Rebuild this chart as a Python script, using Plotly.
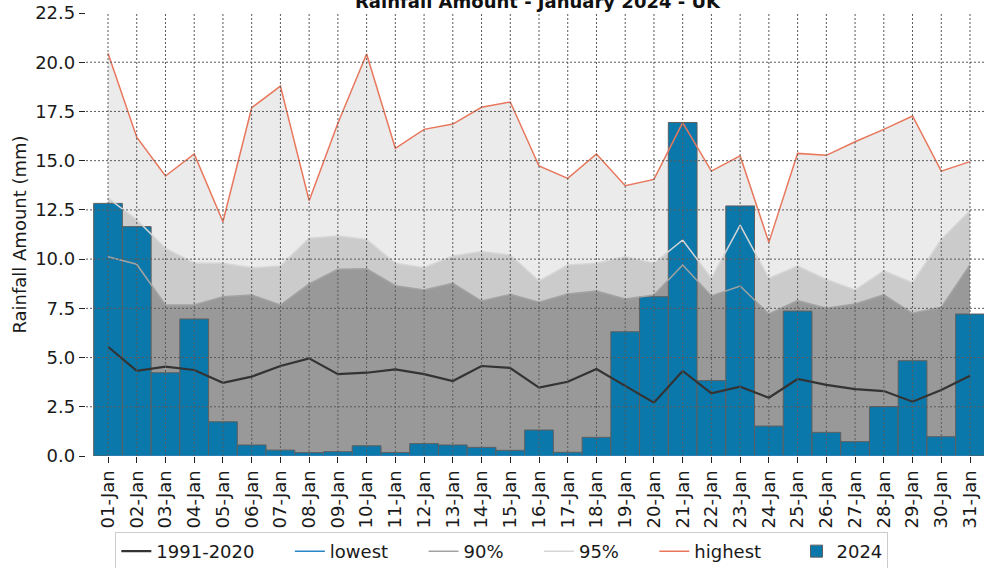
import plotly.graph_objects as go

days = list(range(1, 32))
day_labels = [f"{d:02d}-Jan" for d in days]

avg_1991_2020 = [5.55, 4.33, 4.54, 4.37, 3.72, 4.03, 4.57, 4.96, 4.16, 4.23,
                 4.40, 4.16, 3.81, 4.57, 4.47, 3.47, 3.77, 4.42, 3.56, 2.71,
                 4.32, 3.18, 3.52, 2.96, 3.91, 3.61, 3.40, 3.30, 2.76, 3.35, 4.08]
lowest = [0.0, 0.0, 0.0, 0.0, 0.0, 0.0, 0.0, 0.0, 0.0, 0.0,
          0.0, 0.0, 0.0, 0.0, 0.0, 0.0, 0.0, 0.0, 0.0, 0.0,
          0.0, 0.0, 0.0, 0.0, 0.0, 0.0, 0.0, 0.0, 0.0, 0.0, 0.0]
p90 = [10.12, 9.74, 7.67, 7.67, 8.09, 8.18, 7.67, 8.74, 9.48, 9.51,
       8.65, 8.43, 8.77, 7.87, 8.21, 7.81, 8.23, 8.38, 7.97, 8.18,
       9.70, 8.13, 8.63, 7.21, 7.89, 7.50, 7.72, 8.18, 7.25, 7.55, 9.70]
p95 = [13.10, 12.00, 10.55, 9.79, 9.79, 9.56, 9.65, 11.06, 11.17, 11.00,
       9.79, 9.56, 10.16, 10.38, 10.21, 8.89, 9.70, 9.79, 10.12, 9.79,
       10.97, 9.02, 11.73, 9.02, 9.65, 8.97, 8.43, 9.41, 8.80, 11.00, 12.46]
highest = [20.45, 16.19, 14.22, 15.34, 11.90, 17.69, 18.79, 12.97, 16.90, 20.42,
           15.63, 16.59, 16.86, 17.71, 17.98, 14.73, 14.10, 15.34, 13.73, 14.05,
           16.93, 14.47, 15.24, 10.85, 15.37, 15.27, 15.96, 16.59, 17.27, 14.47, 14.95]
rain_2024 = [12.83, 11.65, 4.23, 6.96, 1.74, 0.56, 0.30, 0.17, 0.22, 0.52,
             0.18, 0.63, 0.56, 0.44, 0.29, 1.32, 0.19, 0.95, 6.31, 8.09,
             16.94, 3.83, 12.70, 1.52, 7.36, 1.20, 0.73, 2.51, 4.84, 0.98, 7.21]
y_ticks = [0.0, 2.5, 5.0, 7.5, 10.0, 12.5, 15.0, 17.5, 20.0, 22.5]

FONT = "DejaVu Sans"
PAD = "\u00a0" * 5 + "\u200a"
fig = go.Figure()

# shaded bands (behind the bars)
for vals, col in [(highest, "#ebebeb"), (p95, "#cbcbcb"), (p90, "#999999")]:
    fig.add_trace(go.Scatter(x=days, y=vals, mode="lines", fill="tozeroy",
                             fillcolor=col, line=dict(width=0),
                             showlegend=False, hoverinfo="skip", zorder=0))

fig.add_trace(go.Bar(x=days, y=rain_2024, width=1.0, name="2024",
                     marker=dict(color="#0a78ab",
                                 line=dict(color="#5f5f5f", width=1)),
                     legendrank=6, zorder=1))

line_specs = [
    ("1991-2020", avg_1991_2020, "#333333", 2.2, 1),
    ("lowest", lowest, "#2a86c4", 1.5, 2),
    ("90%", p90, "#a3a3a3", 1.5, 3),
    ("95%", p95, "#d6d6d6", 1.5, 4),
    ("highest", highest, "#e8775c", 1.5, 5),
]
for name, vals, col, w, rank in line_specs:
    fig.add_trace(go.Scatter(x=days, y=vals, mode="lines", name=name + PAD,
                             line=dict(color=col, width=w),
                             legendrank=rank, zorder=2))

grid = dict(color="#5a5a5a", width=1, dash="2px,2px")
shapes = []
for d in days:
    shapes.append(dict(type="line", xref="x", yref="paper", x0=d, x1=d,
                       y0=0, y1=1, line=grid, layer="above"))
for t in y_ticks[1:-1]:
    shapes.append(dict(type="line", xref="paper", yref="y", x0=0, x1=1,
                       y0=t, y1=t, line=grid, layer="above"))

fig.update_layout(
    width=984, height=568,
    margin=dict(l=86, r=0, t=13, b=112),
    paper_bgcolor="white", plot_bgcolor="white",
    font=dict(family=FONT, size=18, color="#1a1a1a"),
    barmode="overlay",
    shapes=shapes,
    annotations=[dict(text="<b>Rainfall Amount - January 2024 - UK</b>",
                      font=dict(family=FONT, size=18, color="#111111"),
                      xref="paper", yref="paper", x=0.503, y=1,
                      xanchor="center", yanchor="bottom", yshift=0,
                      showarrow=False, borderpad=0)],
    legend=dict(orientation="h", xref="container", yref="container",
                x=0.510, xanchor="center", y=0.0635, yanchor="top",
                bordercolor="#cccccc", borderwidth=1, bgcolor="white",
                font=dict(family=FONT, size=18), traceorder="normal"),
    showlegend=True,
)
fig.update_xaxes(range=[0.234, 31.487], tickmode="array", tickvals=days,
                 ticktext=day_labels, tickangle=-90, showgrid=False,
                 automargin=False,
                 showline=True, mirror=True, linecolor="#222222", linewidth=1.3,
                 ticks="outside", ticklen=6, tickcolor="#222222", zeroline=False)
fig.update_yaxes(range=[0, 22.5], tickmode="array", tickvals=y_ticks,
                 ticktext=[f"{t:.1f}" for t in y_ticks], showgrid=False,
                 automargin=False,
                 showline=True, linecolor="#222222", linewidth=1.3,
                 ticks="outside", ticklen=6, tickcolor="#222222", zeroline=False,
                 title=dict(text="Rainfall Amount (mm)", standoff=3,
                            font=dict(family=FONT, size=18)))

fig.write_html("out.html", config={"displayModeBar": False},
               post_script="document.body.style.margin='0';"
                           "document.body.style.overflow='hidden';")
